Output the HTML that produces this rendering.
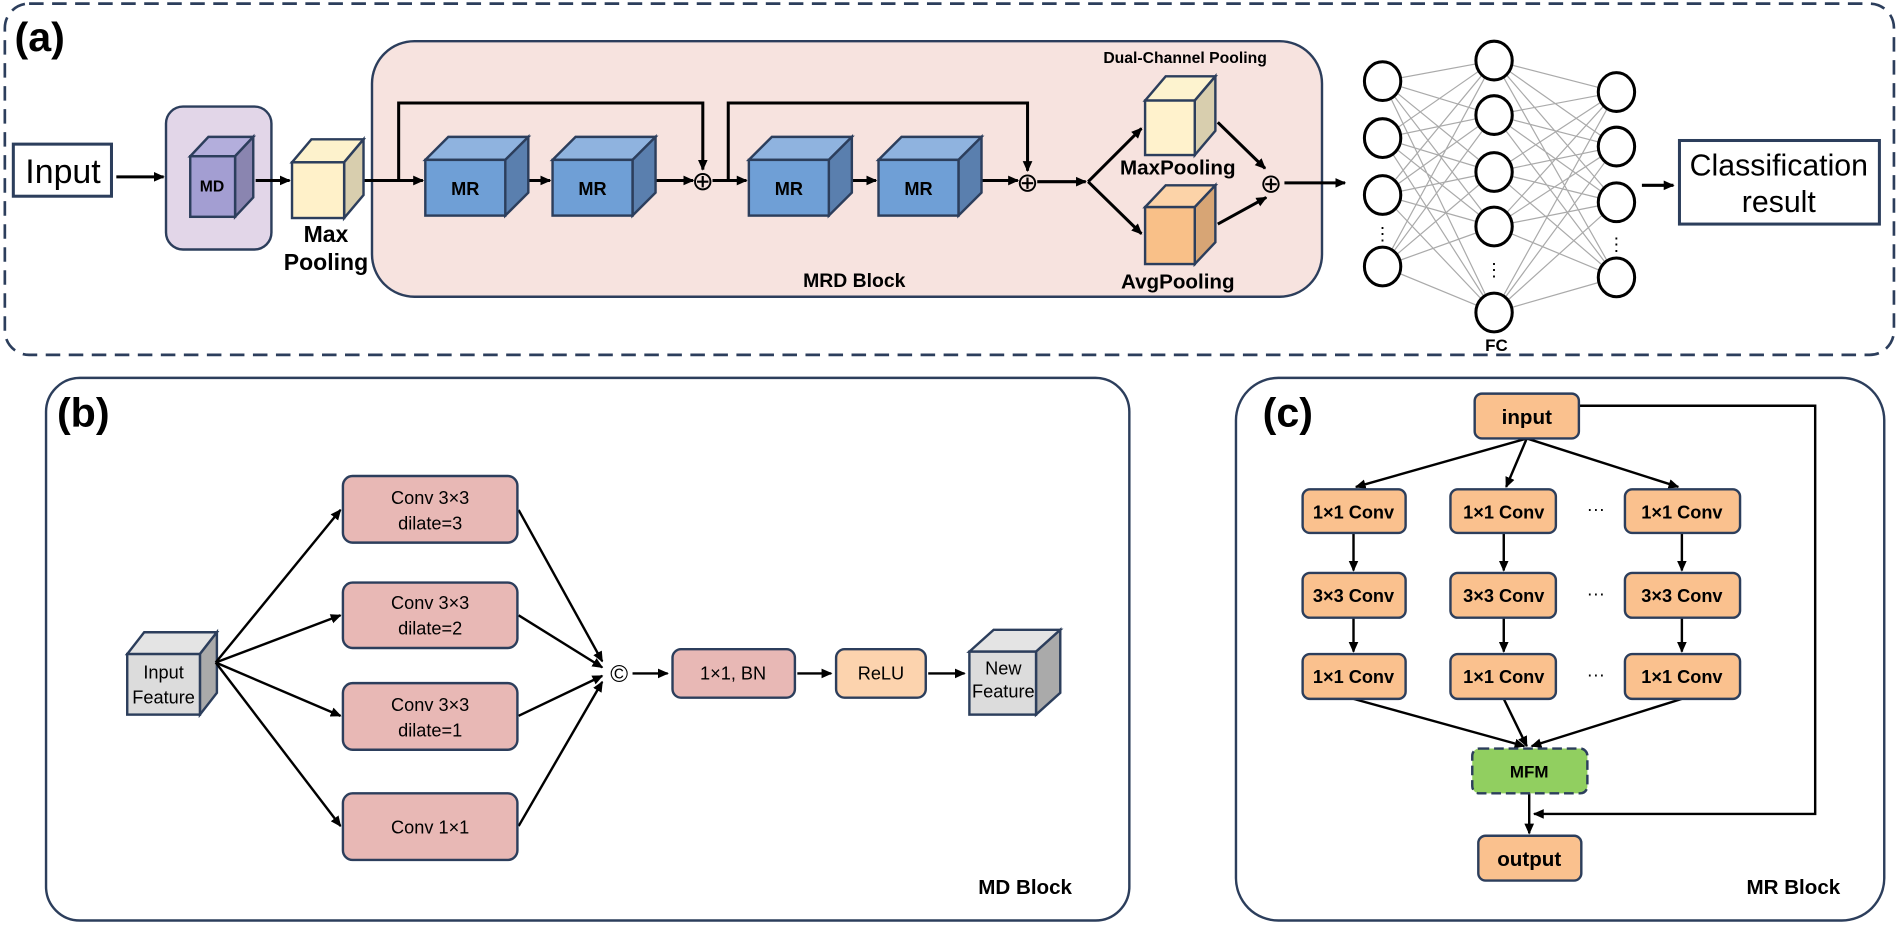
<!DOCTYPE html>
<html><head><meta charset="utf-8"><style>
html,body{margin:0;padding:0;background:#fff;overflow:hidden}
svg{display:block}
text{font-family:"Liberation Sans",sans-serif}
</style></head><body>
<svg width="1900" height="929" viewBox="0 0 1568 767" preserveAspectRatio="none" xmlns="http://www.w3.org/2000/svg">
<defs>
<marker id="ah" markerWidth="10" markerHeight="10" refX="8" refY="5" orient="auto" markerUnits="userSpaceOnUse"><path d="M0,1 L9,5 L0,9 z" fill="#000"/></marker>
</defs>
<g stroke="#2c3e5c" fill="none">
<rect x="4" y="3" width="1559" height="290" rx="20" stroke-width="2.2" stroke-dasharray="12,7"/>
<rect x="38" y="312" width="894" height="448" rx="28" stroke-width="2"/>
<rect x="1020" y="312" width="535" height="448" rx="35" stroke-width="2"/>
</g>
<text x="12" y="42" font-size="34" font-weight="bold">(a)</text>
<text x="47" y="352" font-size="34" font-weight="bold">(b)</text>
<text x="1042" y="352" font-size="34" font-weight="bold">(c)</text>

<!-- Panel a -->
<rect x="307" y="34" width="784" height="211" rx="35" fill="#f7e3df" stroke="#2c3e5c" stroke-width="2"/>
<rect x="11" y="119" width="81" height="43" fill="#fff" stroke="#2c3e5c" stroke-width="2.5"/>
<text x="52" y="151" font-size="28" text-anchor="middle">Input</text>
<rect x="137" y="88" width="87" height="118" rx="14" fill="#e2d6e8" stroke="#2c3e5c" stroke-width="2"/>
<g stroke="#000" stroke-width="2.5" fill="none" marker-end="url(#ah)">
<line x1="96" y1="146" x2="135" y2="146"/>
<line x1="211" y1="149" x2="239" y2="149"/>
<line x1="300" y1="149" x2="349" y2="149"/>
<polyline points="329,149 329,85 580,85 580,140"/>
<line x1="436" y1="149" x2="454" y2="149"/>
<line x1="540" y1="149" x2="572" y2="149"/>
<line x1="588" y1="149" x2="616" y2="149"/>
<polyline points="601,149 601,85 848,85 848,141"/>
<line x1="703" y1="149" x2="723" y2="149"/>
<line x1="809" y1="149" x2="840" y2="149"/>
<line x1="856" y1="150" x2="896" y2="150"/>
<line x1="898" y1="150" x2="942" y2="106"/>
<line x1="898" y1="150" x2="942" y2="193"/>
<line x1="1005" y1="101" x2="1044" y2="139"/>
<line x1="1005" y1="185" x2="1045" y2="163"/>
<line x1="1060" y1="151" x2="1110" y2="151"/>
<line x1="1355" y1="153" x2="1381" y2="153"/>
</g>
<g stroke="#2c3e5c" stroke-width="2">
<polygon points="157,129 172,113 209,113 194,129" fill="#b3aedc"/>
<polygon points="194,129 209,113 209,163 194,179" fill="#8a85b0"/>
<rect x="157" y="129" width="37" height="50" fill="#a39ed2"/>
</g>
<text x="175" y="158" font-size="13" font-weight="bold" text-anchor="middle">MD</text>
<g stroke="#2c3e5c" stroke-width="2">
<polygon points="241,134 257,115 300,115 284,134" fill="#fdf2cc"/>
<polygon points="284,134 300,115 300,161 284,180" fill="#d8ceae"/>
<rect x="241" y="134" width="43" height="46" fill="#fff1c9"/>
</g>
<text x="269" y="200" font-size="19" font-weight="bold" text-anchor="middle">Max</text>
<text x="269" y="223" font-size="19" font-weight="bold" text-anchor="middle">Pooling</text>
<g stroke="#2c3e5c" stroke-width="2">
<g id="mr">
<polygon points="351,132 370,113 436,113 417,132" fill="#8fb3df"/>
<polygon points="417,132 436,113 436,159 417,178" fill="#5a7fae"/>
<rect x="351" y="132" width="66" height="46" fill="#6f9fd6"/>
</g>
<use href="#mr" x="105"/>
<use href="#mr" x="267"/>
<use href="#mr" x="374"/>
</g>
<g font-size="15" font-weight="bold" text-anchor="middle">
<text x="384" y="161">MR</text><text x="489" y="161">MR</text><text x="651" y="161">MR</text><text x="758" y="161">MR</text>
</g>
<g font-size="22" text-anchor="middle"><text x="580" y="157">⊕</text><text x="848" y="158">⊕</text><text x="1049" y="159">⊕</text></g>
<g stroke="#2c3e5c" stroke-width="2">
<polygon points="945,83 962,63 1003,63 986,83" fill="#fdf3cf"/>
<polygon points="986,83 1003,63 1003,108 986,128" fill="#d8ceae"/>
<rect x="945" y="83" width="41" height="45" fill="#fff2cc"/>
<polygon points="945,171 962,153 1003,153 986,171" fill="#fcd3a8"/>
<polygon points="986,171 1003,153 1003,200 986,218" fill="#d7a575"/>
<rect x="945" y="171" width="41" height="47" fill="#f9c088"/>
</g>
<text x="978" y="52" font-size="13" font-weight="bold" text-anchor="middle">Dual-Channel Pooling</text>
<text x="972" y="144" font-size="17" font-weight="bold" text-anchor="middle">MaxPooling</text>
<text x="972" y="238" font-size="17" font-weight="bold" text-anchor="middle">AvgPooling</text>
<text x="705" y="237" font-size="16" font-weight="bold" text-anchor="middle">MRD Block</text>
<!-- FC -->
<g stroke="#aaa" stroke-width="1">
<path d="M1141,67L1233,50M1141,67L1233,95M1141,67L1233,142M1141,67L1233,187M1141,67L1233,258
M1141,114L1233,50M1141,114L1233,95M1141,114L1233,142M1141,114L1233,187M1141,114L1233,258
M1141,161L1233,50M1141,161L1233,95M1141,161L1233,142M1141,161L1233,187M1141,161L1233,258
M1141,220L1233,50M1141,220L1233,95M1141,220L1233,142M1141,220L1233,187M1141,220L1233,258
M1334,76L1233,50M1334,76L1233,95M1334,76L1233,142M1334,76L1233,187M1334,76L1233,258
M1334,121L1233,50M1334,121L1233,95M1334,121L1233,142M1334,121L1233,187M1334,121L1233,258
M1334,167L1233,50M1334,167L1233,95M1334,167L1233,142M1334,167L1233,187M1334,167L1233,258
M1334,229L1233,50M1334,229L1233,95M1334,229L1233,142M1334,229L1233,187M1334,229L1233,258"/>
</g>
<g fill="#fff" stroke="#000" stroke-width="2.5">
<ellipse cx="1141" cy="67" rx="15" ry="16"/><ellipse cx="1141" cy="114" rx="15" ry="16"/><ellipse cx="1141" cy="161" rx="15" ry="16"/><ellipse cx="1141" cy="220" rx="15" ry="16"/>
<ellipse cx="1233" cy="50" rx="15" ry="16"/><ellipse cx="1233" cy="95" rx="15" ry="16"/><ellipse cx="1233" cy="142" rx="15" ry="16"/><ellipse cx="1233" cy="187" rx="15" ry="16"/><ellipse cx="1233" cy="258" rx="15" ry="16"/>
<ellipse cx="1334" cy="76" rx="15" ry="16"/><ellipse cx="1334" cy="121" rx="15" ry="16"/><ellipse cx="1334" cy="167" rx="15" ry="16"/><ellipse cx="1334" cy="229" rx="15" ry="16"/>
</g>
<g font-size="15" text-anchor="middle"><text x="1141" y="198">⋮</text><text x="1233" y="228">⋮</text><text x="1334" y="207">⋮</text></g>
<text x="1235" y="290" font-size="14" font-weight="bold" text-anchor="middle">FC</text>
<rect x="1386" y="116" width="165" height="69" fill="#fff" stroke="#2c3e5c" stroke-width="2.5"/>
<text x="1468" y="145" font-size="25" text-anchor="middle">Classification</text>
<text x="1468" y="175" font-size="25" text-anchor="middle">result</text>

<!-- Panel b -->
<g stroke="#2c3e5c" stroke-width="2">
<polygon points="105,540 119,522 179,522 165,540" fill="#e4e4e4"/>
<polygon points="165,540 179,522 179,572 165,590" fill="#aaa"/>
<rect x="105" y="540" width="60" height="50" fill="#dcdcdc"/>
<polygon points="800,538 820,520 875,520 855,538" fill="#e4e4e4"/>
<polygon points="855,538 875,520 875,572 855,590" fill="#aaa"/>
<rect x="800" y="538" width="55" height="52" fill="#dcdcdc"/>
</g>
<text x="135" y="560" font-size="15" text-anchor="middle">Input</text>
<text x="135" y="581" font-size="15" text-anchor="middle">Feature</text>
<text x="828" y="557" font-size="15" text-anchor="middle">New</text>
<text x="828" y="576" font-size="15" text-anchor="middle">Feature</text>
<g stroke="#000" stroke-width="2" fill="none" marker-end="url(#ah)">
<line x1="178" y1="547" x2="281" y2="421"/>
<line x1="178" y1="547" x2="281" y2="508"/>
<line x1="178" y1="547" x2="281" y2="591"/>
<line x1="178" y1="547" x2="281" y2="682"/>
<line x1="428" y1="421" x2="497" y2="546"/>
<line x1="428" y1="508" x2="497" y2="551"/>
<line x1="428" y1="591" x2="497" y2="558"/>
<line x1="428" y1="682" x2="497" y2="563"/>
<line x1="522" y1="556" x2="551" y2="556"/>
<line x1="658" y1="556" x2="686" y2="556"/>
<line x1="766" y1="556" x2="796" y2="556"/>
</g>
<g fill="#e8b8b5" stroke="#2c3e5c" stroke-width="2">
<rect x="283" y="393" width="144" height="55" rx="8"/>
<rect x="283" y="481" width="144" height="54" rx="8"/>
<rect x="283" y="564" width="144" height="55" rx="8"/>
<rect x="283" y="655" width="144" height="55" rx="8"/>
<rect x="555" y="536" width="101" height="40" rx="7"/>
</g>
<rect x="690" y="536" width="74" height="40" rx="7" fill="#fcd3ae" stroke="#2c3e5c" stroke-width="2"/>
<g font-size="15" text-anchor="middle">
<text x="355" y="416">Conv 3×3</text><text x="355" y="437">dilate=3</text>
<text x="355" y="503">Conv 3×3</text><text x="355" y="524">dilate=2</text>
<text x="355" y="587">Conv 3×3</text><text x="355" y="608">dilate=1</text>
<text x="355" y="688">Conv 1×1</text>
<text x="605" y="561">1×1, BN</text>
<text x="727" y="561">ReLU</text>
</g>
<text x="511" y="563" font-size="20" text-anchor="middle">©</text>
<text x="846" y="738" font-size="17" font-weight="bold" text-anchor="middle">MD Block</text>

<!-- Panel c -->
<g stroke="#000" stroke-width="2" fill="none" marker-end="url(#ah)">
<line x1="1260" y1="362" x2="1119" y2="402"/>
<line x1="1260" y1="362" x2="1243" y2="402"/>
<line x1="1260" y1="362" x2="1385" y2="402"/>
<line x1="1117" y1="440" x2="1117" y2="471"/>
<line x1="1241" y1="440" x2="1241" y2="471"/>
<line x1="1388" y1="440" x2="1388" y2="471"/>
<line x1="1117" y1="510" x2="1117" y2="538"/>
<line x1="1241" y1="510" x2="1241" y2="538"/>
<line x1="1388" y1="510" x2="1388" y2="538"/>
<line x1="1117" y1="577" x2="1258" y2="616"/>
<line x1="1241" y1="577" x2="1260" y2="616"/>
<line x1="1388" y1="577" x2="1264" y2="616"/>
<line x1="1262" y1="655" x2="1262" y2="688"/>
<polyline points="1303,335 1498,335 1498,672 1266,672"/>
</g>
<g fill="#fac18e" stroke="#2c3e5c" stroke-width="2">
<rect x="1217" y="325" width="86" height="37" rx="6"/>
<rect x="1075" y="404" width="85" height="36" rx="6"/><rect x="1197" y="404" width="87" height="36" rx="6"/><rect x="1341" y="404" width="95" height="36" rx="6"/>
<rect x="1075" y="473" width="85" height="37" rx="6"/><rect x="1197" y="473" width="87" height="37" rx="6"/><rect x="1341" y="473" width="95" height="37" rx="6"/>
<rect x="1075" y="540" width="85" height="37" rx="6"/><rect x="1197" y="540" width="87" height="37" rx="6"/><rect x="1341" y="540" width="95" height="37" rx="6"/>
<rect x="1220" y="690" width="85" height="37" rx="6"/>
</g>
<rect x="1215" y="618" width="95" height="37" rx="6" fill="#91cf60" stroke="#2c3e5c" stroke-width="2" stroke-dasharray="8,4"/>
<g font-size="15" font-weight="bold" text-anchor="middle">
<text x="1260" y="350" font-size="17">input</text>
<text x="1117" y="428">1×1 Conv</text><text x="1241" y="428">1×1 Conv</text><text x="1388" y="428">1×1 Conv</text>
<text x="1117" y="497">3×3 Conv</text><text x="1241" y="497">3×3 Conv</text><text x="1388" y="497">3×3 Conv</text>
<text x="1117" y="564">1×1 Conv</text><text x="1241" y="564">1×1 Conv</text><text x="1388" y="564">1×1 Conv</text>
<text x="1262" y="642" font-size="14">MFM</text>
<text x="1262" y="715" font-size="17">output</text>
</g>
<g font-size="15" text-anchor="middle"><text x="1317" y="425">···</text><text x="1317" y="495">···</text><text x="1317" y="562">···</text></g>
<text x="1480" y="738" font-size="17" font-weight="bold" text-anchor="middle">MR Block</text>
</svg>
</body></html>
